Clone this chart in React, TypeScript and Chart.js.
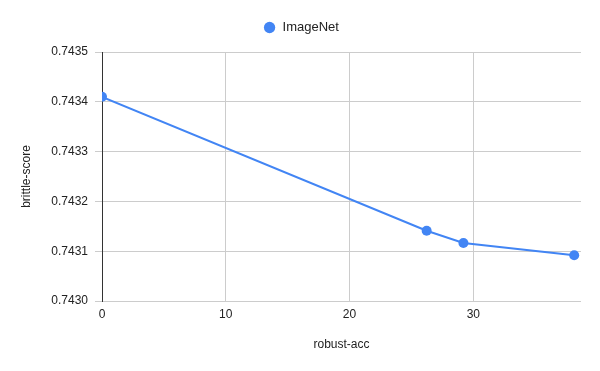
import React, { useEffect, useRef } from "react";
import { Chart, registerables } from "chart.js";

Chart.register(...registerables);

const seriesName = "ImageNet";
const robustAcc = [0, 26.23, 29.2, 38.15];
const brittleScore = [0.74341, 0.743141, 0.7431165, 0.743092];
const xTitle = "robust-acc";
const yTitle = "brittle-score";
const xMin = 0;
const xMax = 38.7;
const yMin = 0.743;
const yMax = 0.7435;

const FONT = "'Liberation Sans', Arial, sans-serif";

const legendSpacer = {
  id: "legendSpacer",
  beforeLayout(chart: any) {
    const lg = chart.legend;
    if (lg && !lg._patched) {
      const orig = lg.fit;
      lg.fit = function () {
        orig.call(this);
        this.height += 8;
      };
      lg._patched = true;
    }
  },
};

export default function App() {
  const ref = useRef<HTMLCanvasElement | null>(null);
  useEffect(() => {
    if (!ref.current) return;
    const data = robustAcc.map((x, i) => ({ x, y: brittleScore[i] }));
    const chart = new Chart(ref.current, {
      type: "line",
      data: {
        datasets: [
          {
            label: seriesName,
            data,
            borderColor: "#4285F4",
            backgroundColor: "#4285F4",
            borderWidth: 2,
            pointRadius: 5,
            pointHoverRadius: 5,
            pointBorderWidth: 0,
            tension: 0,
          },
        ],
      },
      plugins: [legendSpacer],
      options: {
        responsive: false,
        animation: false,
        devicePixelRatio: 1,
        layout: { padding: { left: 21, right: 19, top: 11, bottom: 0 } },
        plugins: {
          legend: {
            display: true,
            position: "top",
            labels: {
              usePointStyle: true,
              boxWidth: 13,
              boxHeight: 8,
              padding: 10,
              color: "#222",
              font: { family: FONT, size: 13 },
            },
          },
          tooltip: { enabled: false },
        },
        scales: {
          x: {
            type: "linear",
            min: xMin,
            max: xMax,
            afterFit: (s: any) => {
              s.height = 70;
            },
            ticks: {
              stepSize: 10,
              includeBounds: false,
              color: "#222",
              padding: 6,
              font: { family: FONT, size: 12 },
            },
            grid: { color: "#cccccc", drawTicks: false, lineWidth: 1 },
            border: { display: false },
            title: {
              display: true,
              text: xTitle,
              color: "#222",
              font: { family: FONT, size: 12 },
              padding: { top: 0, bottom: 19 },
            },
          },
          y: {
            type: "linear",
            min: yMin,
            max: yMax,
            afterFit: (s: any) => {
              s.width = 81;
            },
            ticks: {
              stepSize: 0.0001,
              color: "#222",
              padding: 7,
              font: { family: FONT, size: 12 },
              callback: (v: any) => Number(v).toFixed(4),
            },
            grid: { color: "#cccccc", tickLength: 7, lineWidth: 1 },
            border: { display: true, color: "#333333", width: 1 },
            title: {
              display: true,
              text: yTitle,
              color: "#222",
              font: { family: FONT, size: 12 },
              padding: { top: -2, bottom: 0 },
            },
          },
        },
      },
    });
    return () => chart.destroy();
  }, []);
  return (
    <div style={{ position: "absolute", left: 0, top: 0, width: 600, height: 371, background: "#fff" }}>
      <canvas ref={ref} width={600} height={371} />
    </div>
  );
}
